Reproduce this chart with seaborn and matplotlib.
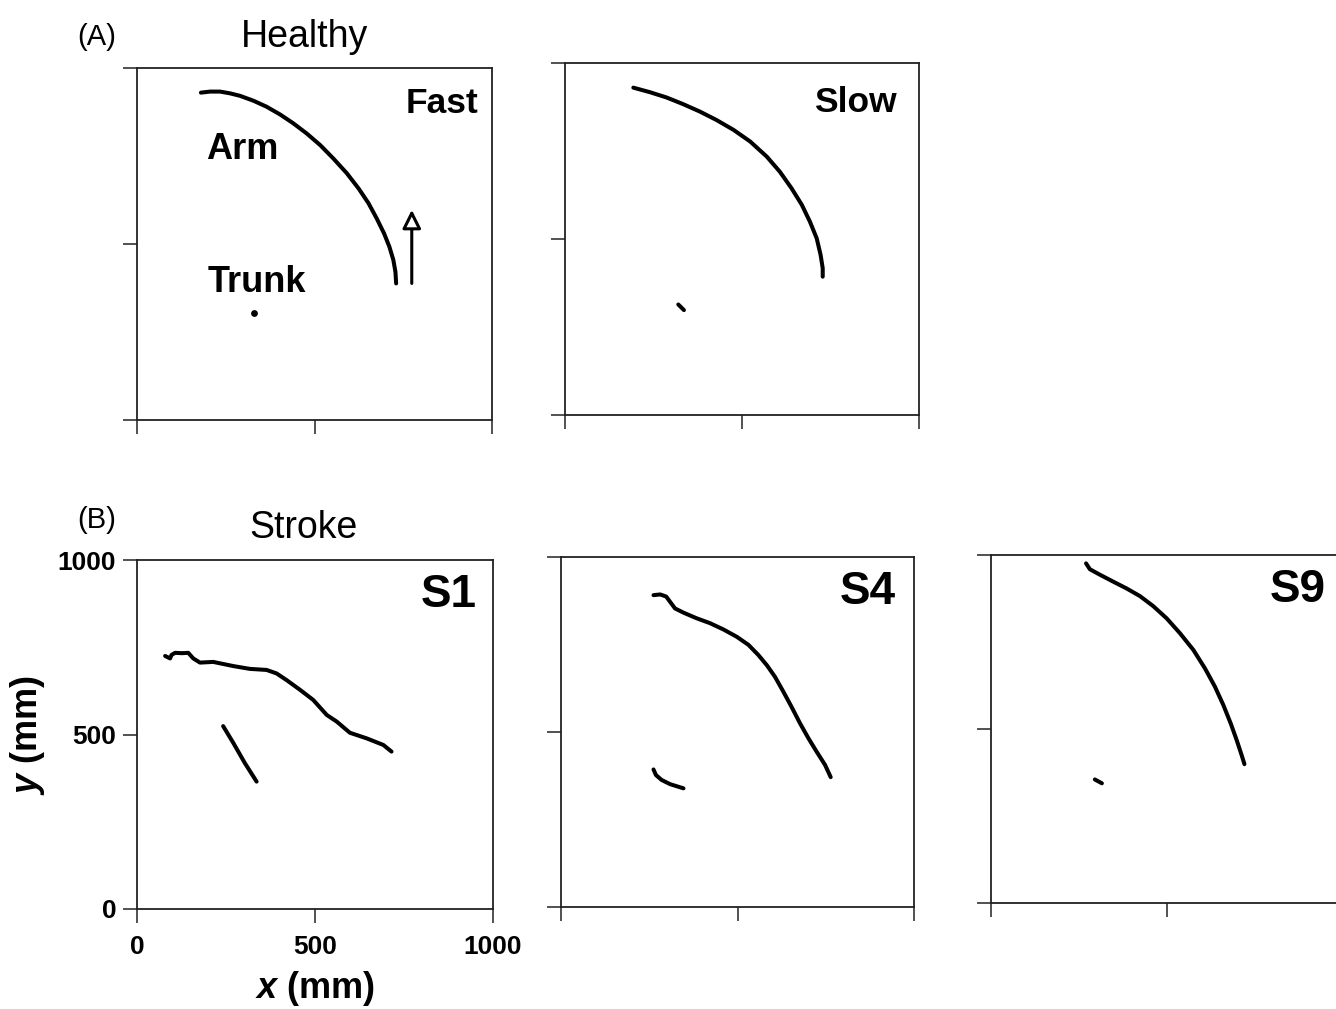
import matplotlib
matplotlib.use("Agg")
import matplotlib.pyplot as plt
import seaborn as sns

# Beállítások
sns.set_style("ticks")
plt.rcParams['font.family'] = ['Liberation Sans', 'DejaVu Sans']
plt.rcParams['mathtext.fontset'] = 'custom'
plt.rcParams['mathtext.it'] = 'Liberation Sans:italic:bold'
plt.rcParams['mathtext.rm'] = 'Liberation Sans:bold'
plt.rcParams.update({"text.color": "black", "axes.labelcolor": "black",
                     "xtick.color": "black", "ytick.color": "black"})

# Adatok (mm) -- Healthy, gyors mozgás
fast_arm_x = [180, 206, 234, 262, 290, 328, 365, 403, 440, 478, 516, 553, 591, 624, 652, 675, 696, 711, 722, 728, 730]
fast_arm_y = [930, 933, 933, 928, 921, 907, 890, 868, 843, 814, 781, 743, 701, 658, 616, 573, 530, 492, 455, 421, 388]
fast_trunk_x = [330]
fast_trunk_y = [303]
arrow_x = [774, 774]
arrow_y = [388, 597]

# Healthy, lassú mozgás
slow_arm_x = [193, 240, 287, 334, 381, 428, 476, 523, 570, 607, 640, 669, 692, 711, 722, 728, 728]
slow_arm_y = [930, 917, 902, 883, 862, 838, 810, 777, 734, 691, 644, 597, 549, 502, 455, 417, 393]
slow_trunk_x = [320, 336]
slow_trunk_y = [314, 298]

# Stroke betegek
s1_arm_x = [79, 93, 97, 107, 126, 144, 158, 177, 214, 271, 317, 364, 392, 420, 458, 495, 533, 561, 598, 645, 692, 715]
s1_arm_y = [725, 718, 728, 734, 733, 734, 718, 706, 708, 696, 688, 685, 675, 656, 628, 599, 556, 537, 505, 489, 470, 451]
s1_trunk_x = [242, 271, 303, 336]
s1_trunk_y = [524, 475, 418, 365]

s4_arm_x = [262, 281, 298, 309, 323, 347, 384, 422, 460, 498, 531, 559, 583, 606, 630, 653, 677, 701, 724, 748, 764]
s4_arm_y = [891, 893, 887, 872, 853, 841, 825, 811, 793, 772, 749, 720, 691, 658, 615, 572, 525, 482, 444, 406, 371]
s4_trunk_x = [262, 269, 285, 309, 347]
s4_trunk_y = [393, 377, 363, 351, 339]

s9_arm_x = [270, 281, 310, 348, 385, 423, 461, 499, 537, 575, 608, 636, 660, 681, 698, 712, 720]
s9_arm_y = [976, 959, 943, 923, 904, 882, 853, 818, 775, 727, 674, 622, 569, 516, 468, 425, 399]
s9_trunk_x = [295, 315]
s9_trunk_y = [355, 344]

ticks = [0, 500, 1000]
tick_labels = ["0", "500", "1000"]

W, H = 1336, 1009
fig = plt.figure(figsize=(W / 100, H / 100), dpi=100)


def add_panel(left, top, right, bottom):
    # pixel doboz -> figure koordináták
    ax = fig.add_axes([left / W, 1 - bottom / H, (right - left) / W, (bottom - top) / H])
    ax.set_xlim(0, 1000)
    ax.set_ylim(0, 1000)
    ax.set_xticks(ticks)
    ax.set_yticks(ticks)
    ax.tick_params(direction="out", length=10, width=1.1, color="#222222")
    ax.tick_params(axis="x", pad=9)
    ax.tick_params(axis="y", pad=5)
    ax.set_xticklabels([])
    ax.set_yticklabels([])
    for s in ax.spines.values():
        s.set_linewidth(1.3)
        s.set_color("#222222")
        s.set_visible(True)
    return ax


def trace(ax, xs, ys):
    sns.lineplot(x=xs, y=ys, ax=ax, sort=False, estimator=None, color="black",
                 linewidth=2.9, solid_capstyle="round", solid_joinstyle="round")


lab_kw = dict(fontweight="bold", color="black")

# (A) Healthy
ax_fast = add_panel(137, 68, 492, 420)
trace(ax_fast, fast_arm_x, fast_arm_y)
sns.scatterplot(x=fast_trunk_x, y=fast_trunk_y, ax=ax_fast, color="black", s=24, linewidth=0)
ax_fast.annotate("", xy=(arrow_x[1], arrow_y[1]), xytext=(arrow_x[0], arrow_y[0]),
                 arrowprops=dict(arrowstyle="-|>", fc="white", ec="black", lw=2.2,
                                 mutation_scale=28, shrinkA=0, shrinkB=0))
ax_fast.text(961, 871, "Fast", ha="right", va="baseline", fontsize=25.5, **lab_kw)
ax_fast.text(194, 741, "Arm", ha="left", va="baseline", fontsize=26, **lab_kw)
ax_fast.text(200, 364, "Trunk", ha="left", va="baseline", fontsize=26, **lab_kw)

ax_slow = add_panel(565, 63, 919, 415)
trace(ax_slow, slow_arm_x, slow_arm_y)
trace(ax_slow, slow_trunk_x, slow_trunk_y)
ax_slow.text(937, 860, "Slow", ha="right", va="baseline", fontsize=25.5, **lab_kw)

# (B) Stroke
ax_s1 = add_panel(137, 560, 493, 909)
trace(ax_s1, s1_arm_x, s1_arm_y)
trace(ax_s1, s1_trunk_x, s1_trunk_y)
ax_s1.text(955, 865, "S1", ha="right", va="baseline", fontsize=33, **lab_kw)
ax_s1.set_xticklabels(tick_labels, fontsize=19, fontweight="bold")
ax_s1.set_yticklabels(tick_labels, fontsize=19, fontweight="bold")
ax_s1.set_xlabel("$x$ (mm)", fontsize=26, fontweight="bold", labelpad=7)
ax_s1.set_ylabel("$y$ (mm)", fontsize=26, fontweight="bold", labelpad=8)

ax_s4 = add_panel(561, 557, 914, 907)
trace(ax_s4, s4_arm_x, s4_arm_y)
trace(ax_s4, s4_trunk_x, s4_trunk_y)
ax_s4.text(949, 866, "S4", ha="right", va="baseline", fontsize=33, **lab_kw)

ax_s9 = add_panel(991, 555, 1343, 903)
trace(ax_s9, s9_arm_x, s9_arm_y)
trace(ax_s9, s9_trunk_x, s9_trunk_y)
ax_s9.text(952, 866, "S9", ha="right", va="baseline", fontsize=33, **lab_kw)

# Csoport feliratok
fig.text(77 / W, 1 - 45 / H, "(A)", fontsize=21, ha="left", va="baseline")
fig.text(305 / W, 1 - 47 / H, "Healthy", fontsize=27, ha="center", va="baseline")
fig.text(77 / W, 1 - 528 / H, "(B)", fontsize=21, ha="left", va="baseline")
fig.text(303 / W, 1 - 538 / H, "Stroke", fontsize=27, ha="center", va="baseline")

fig.savefig("out.png", dpi=100)
